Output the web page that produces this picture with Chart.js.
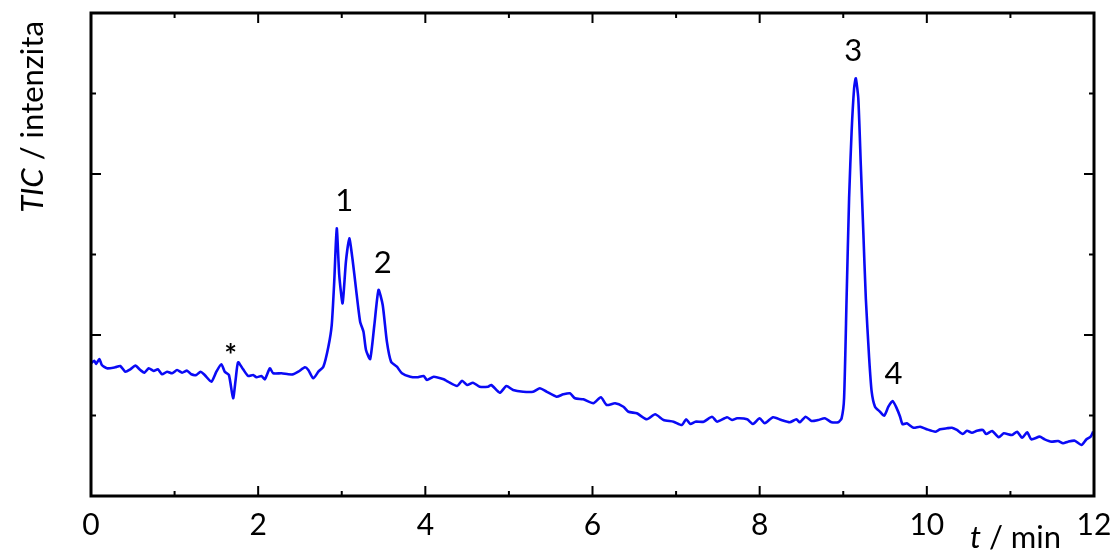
<!DOCTYPE html>
<html lang="cs">
  <head>
    <meta charset="UTF-8" />
    <title>TIC chromatogram</title>
    <script src="https://cdn.jsdelivr.net/npm/chart.js"></script>
    <style>
      body {
        margin: 0;
        background: #ffffff;
      }
      canvas {
        display: block;
      }
    </style>
  </head>
  <body>
    <canvas id="tic" width="1114" height="552"></canvas>

    <script>
      // retention time (min)
      const time = [
        0.00, 0.04, 0.06, 0.10, 0.13, 0.19, 0.29, 0.35, 0.41, 0.47, 0.53, 0.59,
        0.64, 0.69, 0.75, 0.80, 0.85, 0.91, 0.97, 1.03, 1.09, 1.15, 1.20, 1.26,
        1.31, 1.36, 1.44, 1.50, 1.56, 1.60, 1.65, 1.70, 1.73, 1.76, 1.82, 1.88,
        1.94, 1.98, 2.04, 2.08, 2.14, 2.18, 2.28, 2.36, 2.42, 2.48, 2.56, 2.60,
        2.66, 2.72, 2.78, 2.84, 2.88, 2.91, 2.94, 2.97, 3.01, 3.05, 3.09, 3.13,
        3.17, 3.22, 3.26, 3.29, 3.34, 3.39, 3.44, 3.49, 3.54, 3.59, 3.66, 3.72,
        3.82, 3.90, 3.98, 4.02, 4.10, 4.22, 4.27, 4.38, 4.44, 4.50, 4.57, 4.65,
        4.75, 4.79, 4.89, 4.97, 5.05, 5.17, 5.29, 5.37, 5.45, 5.57, 5.65, 5.73,
        5.79, 5.89, 6.01, 6.10, 6.17, 6.27, 6.37, 6.43, 6.53, 6.65, 6.75, 6.85,
        6.97, 7.07, 7.12, 7.17, 7.23, 7.33, 7.43, 7.49, 7.61, 7.67, 7.73, 7.85,
        7.92, 8.00, 8.06, 8.16, 8.26, 8.36, 8.44, 8.48, 8.55, 8.62, 8.70, 8.78,
        8.86, 8.94, 8.98, 9.01, 9.04, 9.07, 9.10, 9.13, 9.15, 9.18, 9.21, 9.24,
        9.27, 9.31, 9.34, 9.38, 9.44, 9.49, 9.54, 9.59, 9.64, 9.68, 9.71, 9.76,
        9.84, 9.92, 10.00, 10.10, 10.16, 10.24, 10.30, 10.36, 10.43, 10.48,
        10.54, 10.60, 10.67, 10.71, 10.78, 10.86, 10.92, 11.02, 11.08, 11.14,
        11.20, 11.25, 11.35, 11.41, 11.49, 11.57, 11.63, 11.69, 11.77, 11.85,
        11.91, 11.96, 11.99
      ];

      // total ion current (arbitrary units)
      const tic = [
        1.648, 1.681, 1.640, 1.702, 1.627, 1.586, 1.599, 1.615, 1.544, 1.574,
        1.619, 1.565, 1.532, 1.586, 1.553, 1.574, 1.512, 1.544, 1.524, 1.565,
        1.532, 1.557, 1.512, 1.503, 1.544, 1.503, 1.420, 1.544, 1.636, 1.544,
        1.503, 1.214, 1.441, 1.661, 1.574, 1.491, 1.503, 1.475, 1.491, 1.450,
        1.586, 1.524, 1.524, 1.512, 1.512, 1.544, 1.599, 1.565, 1.462, 1.544,
        1.606, 1.855, 2.124, 2.662, 3.325, 2.745, 2.394, 2.911, 3.201, 2.932,
        2.580, 2.165, 2.041, 1.814, 1.702, 2.124, 2.559, 2.373, 1.917, 1.668,
        1.606, 1.524, 1.482, 1.475, 1.491, 1.441, 1.482, 1.450, 1.420, 1.366,
        1.432, 1.379, 1.407, 1.358, 1.358, 1.379, 1.283, 1.366, 1.317, 1.296,
        1.296, 1.338, 1.296, 1.234, 1.263, 1.276, 1.214, 1.201, 1.152, 1.226,
        1.130, 1.152, 1.109, 1.047, 1.027, 0.953, 1.015, 0.944, 0.923, 0.882,
        0.953, 0.894, 0.923, 0.923, 0.985, 0.923, 0.978, 0.944, 0.965, 0.953,
        0.894, 0.965, 0.903, 0.978, 0.944, 0.916, 0.953, 0.916, 0.985, 0.932,
        0.944, 0.965, 0.916, 0.916, 0.965, 1.214, 2.456, 3.698, 4.525, 5.065,
        5.189, 4.940, 4.112, 3.283, 2.456, 1.711, 1.296, 1.109, 1.047, 0.998,
        1.109, 1.180, 1.089, 0.985, 0.891, 0.903, 0.848, 0.861, 0.829, 0.799,
        0.829, 0.841, 0.848, 0.820, 0.770, 0.811, 0.786, 0.811, 0.820, 0.770,
        0.807, 0.729, 0.779, 0.758, 0.799, 0.724, 0.791, 0.704, 0.737, 0.704,
        0.675, 0.683, 0.655, 0.675, 0.687, 0.634, 0.704, 0.737, 0.799
      ];

      // x tick labels (only even minutes are labelled)
      const xLabels = ["0", "2", "4", "6", "8", "10", "12"];

      // peak annotations
      const peakNames = ["*", "1", "2", "3", "4"];
      const peakTimes = [1.67, 3.03, 3.49, 9.12, 9.60];
      const peakHeights = [1.66, 3.33, 2.56, 5.19, 1.18];

      const FONT = "Lato, 'Open Sans', sans-serif";

      // frame, inward ticks, axis titles and peak labels
      const decorations = {
        id: "decorations",
        afterDraw(chart) {
          const { ctx, chartArea: a, scales } = chart;
          const xs = scales.x;
          const ys = scales.y;
          ctx.save();
          ctx.strokeStyle = "#000";

          // ticks on all four sides, pointing inwards
          ctx.lineWidth = 2;
          ctx.beginPath();
          for (let v = 1; v < 12; v++) {
            const px = xs.getPixelForValue(v);
            const len = v % 2 === 0 ? 10 : 5;
            ctx.moveTo(px, a.bottom);
            ctx.lineTo(px, a.bottom - len);
            ctx.moveTo(px, a.top);
            ctx.lineTo(px, a.top + len);
          }
          for (let v = 1; v < 6; v++) {
            const py = ys.getPixelForValue(v);
            const len = v % 2 === 0 ? 10 : 5;
            ctx.moveTo(a.left, py);
            ctx.lineTo(a.left + len, py);
            ctx.moveTo(a.right, py);
            ctx.lineTo(a.right - len, py);
          }
          ctx.stroke();

          // frame
          ctx.lineWidth = 3;
          ctx.strokeRect(a.left, a.top, a.right - a.left, a.bottom - a.top);

          ctx.fillStyle = "#000";
          ctx.textBaseline = "middle";

          // y title: "TIC / intenzita"
          ctx.save();
          ctx.translate(33, 117);
          ctx.rotate(-Math.PI / 2);
          const fIt = "italic 31px " + FONT;
          const fUp = "31px " + FONT;
          ctx.font = fIt;
          const w1 = ctx.measureText("TIC").width;
          ctx.font = fUp;
          const w2 = ctx.measureText(" / intenzita").width;
          let x0 = -(w1 + w2) / 2;
          ctx.textAlign = "left";
          ctx.font = fIt;
          ctx.fillText("TIC", x0, 0);
          ctx.font = fUp;
          ctx.fillText(" / intenzita", x0 + w1, 0);
          ctx.restore();

          // x title: "t / min"
          ctx.textAlign = "left";
          ctx.font = fIt;
          const tw = ctx.measureText("t").width;
          ctx.fillText("t", 970, 538);
          ctx.font = fUp;
          ctx.fillText(" / min", 970 + tw, 538);

          // peak labels
          ctx.textAlign = "center";
          peakNames.forEach((name, i) => {
            const px = xs.getPixelForValue(peakTimes[i]);
            const py = ys.getPixelForValue(peakHeights[i]);
            if (name === "*") {
              ctx.font = "bold 30px " + FONT;
              ctx.fillText(name, px, py - 6);
            } else {
              ctx.font = "31px " + FONT;
              ctx.fillText(name, px, py - 27);
            }
          });
          ctx.restore();
        },
      };

      const ticCtx = document.getElementById("tic").getContext("2d");
      const ticChart = new Chart(ticCtx, {
        type: "line",
        data: {
          datasets: [
            {
              label: "TIC",
              data: time.map((t, i) => ({ x: t, y: tic[i] })),
              borderColor: "rgb(10, 10, 245)",
              borderWidth: 2.6,
              pointRadius: 0,
              tension: 0.2,
              fill: false,
            },
          ],
        },
        options: {
          responsive: false,
          animation: false,
          layout: { padding: { top: 13, right: 0, left: 0, bottom: 0 } },
          plugins: {
            legend: { display: false },
            tooltip: { enabled: false },
          },
          scales: {
            x: {
              type: "linear",
              min: 0,
              max: 12,
              grid: { display: false, drawTicks: false },
              border: { display: false },
              ticks: {
                stepSize: 2,
                padding: 11,
                color: "#000",
                font: { family: FONT, size: 30 },
                maxRotation: 0,
                callback: (v) => xLabels[v / 2],
              },
              afterFit: (s) => {
                s.height = 56;
                s.paddingLeft = 0;
                s.paddingRight = 20;
              },
            },
            y: {
              min: 0,
              max: 6,
              grid: { display: false, drawTicks: false },
              border: { display: false },
              ticks: { display: false, stepSize: 1 },
              afterFit: (s) => {
                s.width = 91;
              },
            },
          },
        },
        plugins: [decorations],
      });
    </script>
  </body>
</html>
